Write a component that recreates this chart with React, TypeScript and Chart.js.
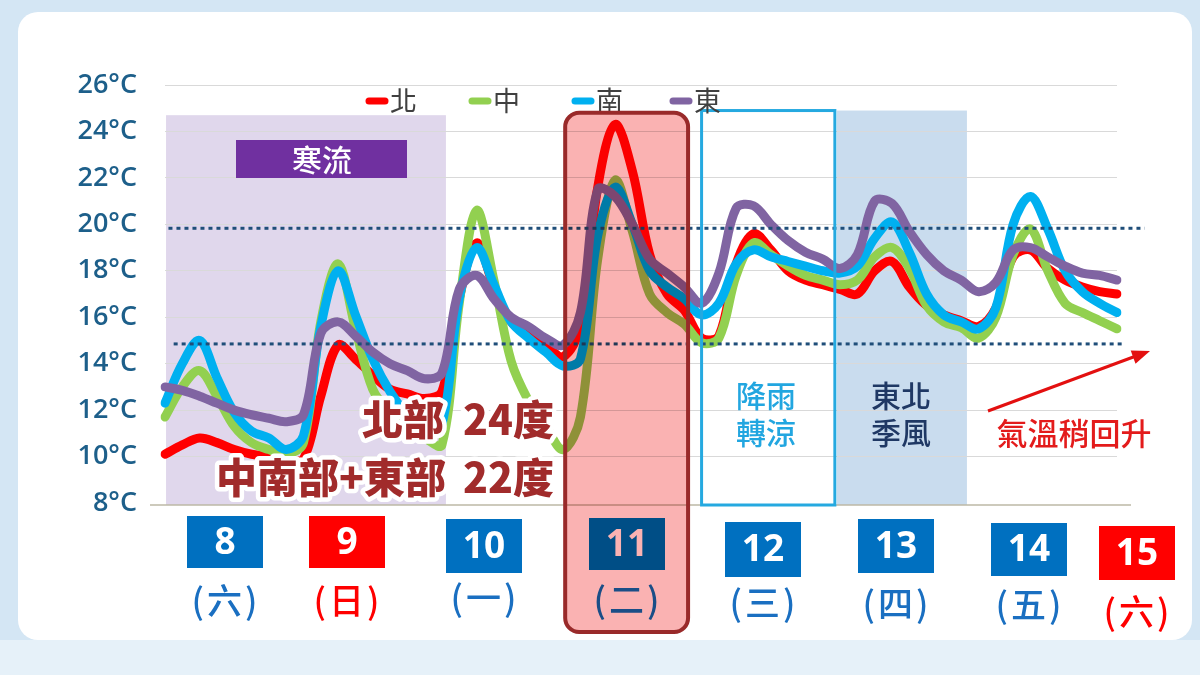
import React, { useEffect, useRef } from 'react';
import { Chart, registerables } from 'chart.js';

Chart.register(...registerables);

// ---------- data ----------
const days = ['8', '9', '10', '11', '12', '13', '14'];
const slots = ['00', '03', '06', '09', '12', '15', '18', '21'];
const timeLabels = days.flatMap((d) => slots.map((h) => `${d}日${h}時`));

const seriesNames = ['北', '中', '南', '東'];

const north = [
  10.1, 10.5, 10.8, 10.6, 10.3, 10.1, 10.0, 9.9,
  9.9, 12.6, 14.8, 14.2, 13.5, 12.9, 12.7, 12.5,
  12.8, 16.8, 19.2, 17.3, 15.8, 15.3, 14.8, 14.3,
  15.6, 21.6, 24.3, 22.3, 18.7, 17.0, 16.3, 15.1,
  15.2, 18.3, 19.6, 18.9, 18.0, 17.6, 17.4, 17.2,
  17.0, 18.0, 18.4, 17.3, 16.5, 16.1, 15.85, 15.6,
  16.4, 18.6, 18.9, 18.1, 17.6, 17.3, 17.1, 17.0,
];
const central = [
  11.7, 13.0, 13.7, 12.6, 11.3, 10.6, 10.3, 10.1,
  10.6, 15.8, 18.3, 15.5, 12.9, 11.9, 11.3, 10.8,
  10.5, 16.6, 20.6, 17.6, 14.1, 12.4, 11.3, 10.3,
  11.7, 18.5, 21.9, 19.7, 17.0, 16.2, 15.7, 14.9,
  15.1, 17.8, 19.2, 18.7, 18.2, 17.8, 17.6, 17.4,
  17.6, 18.6, 19.0, 18.1, 16.5, 15.8, 15.55, 15.1,
  16.0, 18.7, 19.8, 18.0, 16.6, 16.2, 15.85, 15.5,
];
const south = [
  12.3, 14.0, 15.0, 13.4, 11.9, 11.1, 10.8, 10.3,
  10.9, 15.6, 18.0, 16.1, 14.2, 12.8, 11.8, 11.1,
  11.4, 16.8, 19.0, 17.4, 15.8, 15.1, 14.5, 13.9,
  14.2, 19.5, 21.6, 20.0, 18.0, 17.3, 16.8, 16.1,
  16.6, 18.3, 18.9, 18.6, 18.4, 18.2, 18.0, 17.9,
  18.2, 19.4, 20.1, 18.8, 17.0, 16.1, 15.8, 15.5,
  16.4, 20.0, 21.2, 19.8, 18.0, 17.1, 16.6, 16.2,
];
const east = [
  13.0, 12.85, 12.6, 12.3, 12.0, 11.8, 11.65, 11.5,
  11.8, 15.3, 15.8, 15.2, 14.5, 14.0, 13.7, 13.35,
  13.6, 17.2, 17.8, 16.8, 16.0, 15.6, 15.1, 14.8,
  16.2, 21.5, 21.2, 20.0, 18.5, 17.9, 17.3, 16.6,
  17.9, 20.7, 20.8, 20.0, 19.3, 18.8, 18.5, 18.1,
  18.7, 21.0, 20.9, 19.7, 18.7, 18.0, 17.6, 17.1,
  17.5, 18.9, 19.0, 18.6, 18.2, 17.9, 17.8, 17.6,
];

const yMin = 8;
const yMax = 26;
const yStep = 2;

const refHigh = 19.83;
const refLow = 14.85;

const dayNumbers = ['8', '9', '10', '11', '12', '13', '14', '15'];
const weekdays = ['(六)', '(日)', '(一)', '(二)', '(三)', '(四)', '(五)', '(六)'];
const dayIsRed = [false, true, false, false, false, false, false, true];

// ---------- layout / styles ----------
const W = 1200;
const H = 675;
const colors = ['#ff0000', '#92d050', '#00b0f0', '#8064a2'];

const coldBand = { from: 0.06, to: 16.23, top: 24.7 };
const rainBox = { from: 31.0, to: 38.7, top: 24.9 };
const monsoonBand = { from: 38.82, to: 46.33, top: 24.9 };
const focusBox = { from: 23.12, to: 30.22, top: 24.8, bottomPx: 632 };

const legendX = [366, 469, 572, 670];
const dayLabelX = [225, 347, 484, 627, 763, 896, 1029, 1137];
const dayBoxTop = [516, 516, 519, 518, 522, 519, 523, 526];
const dayBoxH = [52, 52, 54, 52, 55, 54, 53, 54];
const daySubY = [601, 601, 598, 600, 603, 604, 605, 612];

const CJK = "'Noto Sans CJK TC'";

function outlined(ctx: any, text: string, x: number, y: number) {
  ctx.textAlign = 'right';
  ctx.textBaseline = 'middle';
  ctx.lineJoin = 'round';
  ctx.lineWidth = 9;
  ctx.strokeStyle = '#ffffff';
  ctx.strokeText(text, x, y);
  ctx.fillStyle = '#a12b2b';
  ctx.fillText(text, x, y);
}

const decorPlugin = {
  id: 'decor',
  beforeDraw(chart: any) {
    const { ctx } = chart;
    const xs = chart.scales.x;
    const ys = chart.scales.y;
    ctx.save();
    ctx.fillStyle = '#d4e6f4';
    ctx.fillRect(0, 0, W, H);
    ctx.fillStyle = '#e6f1f9';
    ctx.fillRect(0, 640, W, H - 640);
    ctx.fillStyle = '#ffffff';
    ctx.beginPath();
    ctx.roundRect(18, 12, 1174, 628, 20);
    ctx.fill();

    const bottom = ys.getPixelForValue(yMin) + 2;
    const band = (b: any, color: string) => {
      const x1 = xs.getPixelForValue(b.from);
      const x2 = xs.getPixelForValue(b.to);
      const t = ys.getPixelForValue(b.top);
      ctx.fillStyle = color;
      ctx.fillRect(x1, t, x2 - x1, bottom - t);
    };
    band(coldBand, '#e0d7ec');
    band(monsoonBand, '#c9dcee');

    // baseline
    ctx.strokeStyle = '#bcb8a6';
    ctx.lineWidth = 1.5;
    ctx.beginPath();
    ctx.moveTo(150, bottom);
    ctx.lineTo(1131, bottom);
    ctx.stroke();
    ctx.restore();
  },
  afterDatasetsDraw(chart: any) {
    const { ctx } = chart;
    const xs = chart.scales.x;
    const ys = chart.scales.y;
    ctx.save();
    // dotted reference lines
    ctx.strokeStyle = '#1f4e79';
    ctx.lineWidth = 3;
    ctx.setLineDash([4, 4]);
    const hy = ys.getPixelForValue(refHigh);
    ctx.beginPath();
    ctx.moveTo(xs.getPixelForValue(0.2), hy);
    ctx.lineTo(xs.getPixelForValue(56.6), hy);
    ctx.stroke();
    const ly = ys.getPixelForValue(refLow);
    ctx.beginPath();
    ctx.moveTo(xs.getPixelForValue(0.5), ly);
    ctx.lineTo(xs.getPixelForValue(55.5), ly);
    ctx.stroke();
    ctx.setLineDash([]);

    // rain box outline
    const rx1 = xs.getPixelForValue(rainBox.from);
    const rx2 = xs.getPixelForValue(rainBox.to);
    const rt = ys.getPixelForValue(rainBox.top);
    const rb = ys.getPixelForValue(yMin) + 2;
    ctx.strokeStyle = '#25a9e0';
    ctx.lineWidth = 3;
    ctx.strokeRect(rx1, rt, rx2 - rx1, rb - rt);
    ctx.restore();
  },
  afterDraw(chart: any) {
    const { ctx } = chart;
    const xs = chart.scales.x;
    const ys = chart.scales.y;
    ctx.save();

    // legend
    seriesNames.forEach((name, k) => {
      const lx = legendX[k];
      ctx.strokeStyle = colors[k];
      ctx.lineWidth = 7;
      ctx.lineCap = 'round';
      ctx.beginPath();
      ctx.moveTo(lx + 3, 101);
      ctx.lineTo(lx + 19, 101);
      ctx.stroke();
      ctx.fillStyle = '#404040';
      ctx.font = `27px ${CJK}`;
      ctx.textAlign = 'left';
      ctx.textBaseline = 'middle';
      ctx.fillText(name, lx + 24, 101);
    });
    ctx.lineCap = 'butt';

    // 寒流 tag
    ctx.fillStyle = '#7030a0';
    ctx.fillRect(236, 140, 171, 38);
    ctx.fillStyle = '#ffffff';
    ctx.font = `500 30px ${CJK}`;
    ctx.textAlign = 'center';
    ctx.textBaseline = 'middle';
    ctx.fillText('寒流', 322, 160);

    // region notes
    ctx.font = `500 30px ${CJK}`;
    ctx.fillStyle = '#22a6e0';
    ctx.fillText('降雨', 766, 396);
    ctx.fillText('轉涼', 766, 433);
    ctx.fillStyle = '#1f3864';
    ctx.fillText('東北', 901, 396);
    ctx.fillText('季風', 901, 433);
    ctx.fillStyle = '#e31b1b';
    ctx.font = `500 31px ${CJK}`;
    ctx.fillText('氣溫稍回升', 1074, 433);

    // arrow
    ctx.strokeStyle = '#e31010';
    ctx.fillStyle = '#e31010';
    ctx.lineWidth = 3;
    ctx.beginPath();
    ctx.moveTo(988, 411);
    ctx.lineTo(1136, 356);
    ctx.stroke();
    ctx.beginPath();
    ctx.moveTo(1150, 351);
    ctx.lineTo(1135.5, 363.8);
    ctx.lineTo(1130.7, 350.6);
    ctx.closePath();
    ctx.fill();

    // highlight text
    ctx.font = `900 41px ${CJK}`;
    outlined(ctx, '北部', 444, 419);
    outlined(ctx, '24度', 554, 419);
    outlined(ctx, '中南部+東部', 446, 477);
    outlined(ctx, '22度', 554, 477);

    // day labels
    dayNumbers.forEach((d, k) => {
      const cx = dayLabelX[k];
      const red = dayIsRed[k];
      ctx.fillStyle = red ? '#ff0000' : '#0070c0';
      ctx.fillRect(cx - 38, dayBoxTop[k], 76, dayBoxH[k]);
      ctx.fillStyle = '#ffffff';
      ctx.font = `bold 37px 'Open Sans'`;
      ctx.textAlign = 'center';
      ctx.textBaseline = 'middle';
      ctx.fillText(d, cx, dayBoxTop[k] + dayBoxH[k] / 2 + 1);
      ctx.fillStyle = red ? '#ff0000' : '#1a6fc1';
      ctx.font = `500 35px ${CJK}`;
      (ctx as any).letterSpacing = '3px';
      ctx.fillText(weekdays[k], cx + 1, daySubY[k]);
      (ctx as any).letterSpacing = '0px';
    });

    // focus box (multiply overlay)
    const fx1 = xs.getPixelForValue(focusBox.from);
    const fx2 = xs.getPixelForValue(focusBox.to);
    const ft = ys.getPixelForValue(focusBox.top);
    ctx.beginPath();
    ctx.roundRect(fx1, ft, fx2 - fx1, focusBox.bottomPx - ft, 14);
    ctx.globalCompositeOperation = 'multiply';
    ctx.fillStyle = 'rgb(250,178,178)';
    ctx.fill();
    ctx.globalCompositeOperation = 'source-over';
    ctx.strokeStyle = '#992a2a';
    ctx.lineWidth = 4;
    ctx.stroke();

    ctx.restore();
  },
};

export default function App() {
  const ref = useRef<HTMLCanvasElement>(null);
  useEffect(() => {
    const canvas = ref.current;
    if (!canvas) return;
    const series = [north, central, south, east];
    const chart = new Chart(canvas, {
      type: 'line',
      data: {
        labels: timeLabels,
        datasets: series.map((s, k) => ({
          label: seriesNames[k],
          data: s,
          borderColor: colors[k],
          backgroundColor: colors[k],
          borderWidth: 9,
          pointRadius: 0,
          pointHoverRadius: 0,
          tension: 0.35,
          borderCapStyle: 'round',
          borderJoinStyle: 'round',
          fill: false,
          order: 4 - k,
        })),
      },
      options: {
        responsive: false,
        animation: false,
        events: [],
        layout: { padding: { left: 0, right: 83, top: 85, bottom: 172 } },
        plugins: { legend: { display: false }, tooltip: { enabled: false } },
        scales: {
          x: { type: 'category', display: false, offset: false },
          y: {
            min: yMin,
            max: yMax,
            afterFit: (s: any) => {
              s.width = 165;
            },
            border: { display: false },
            grid: {
              color: (c: any) => (c.tick && c.tick.value === yMin ? 'rgba(0,0,0,0)' : '#d9d9d9'),
              lineWidth: 1,
              drawTicks: false,
            },
            ticks: {
              stepSize: yStep,
              padding: 28,
              color: '#1d5f8a',
              font: { family: "'Open Sans'", size: 27, weight: '600' },
              callback: (v: any) => `${v}°C`,
            },
          },
        },
      } as any,
      plugins: [decorPlugin],
    });
    return () => chart.destroy();
  }, []);
  return (
    <div style={{ position: 'fixed', left: 0, top: 0, width: W, height: H, overflow: 'hidden' }}>
      <canvas ref={ref} width={W} height={H} style={{ display: 'block', width: W, height: H }} />
    </div>
  );
}
